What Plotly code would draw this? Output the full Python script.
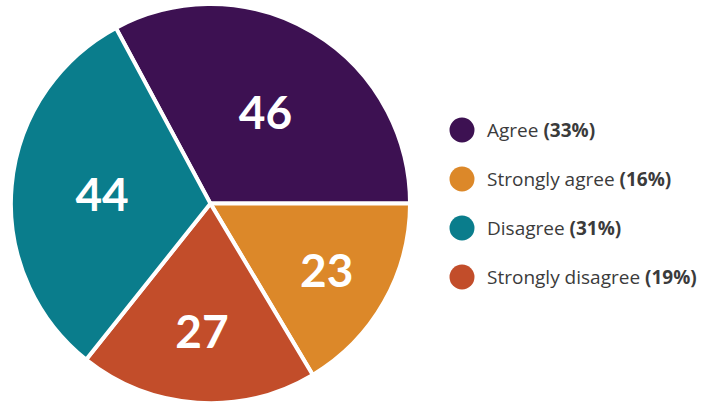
import plotly.graph_objects as go

# Data (pie order is clockwise starting from Agree)
pie_labels = ["Agree", "Strongly agree", "Strongly disagree", "Disagree"]
pie_values = [46, 23, 27, 44]
pie_colors = ["#3d1152", "#dc8829", "#c24d2a", "#0a7d8c"]

# Legend order
legend_labels = ["Agree", "Strongly agree", "Disagree", "Strongly disagree"]

total = sum(pie_values)
value_of = dict(zip(pie_labels, pie_values))
color_of = dict(zip(pie_labels, pie_colors))

fig = go.Figure()
fig.add_trace(go.Pie(
    labels=pie_labels,
    values=pie_values,
    sort=False,
    direction="clockwise",
    rotation=90 - 360 * pie_values[0] / total,
    marker=dict(colors=pie_colors, line=dict(color="white", width=4)),
    textinfo="value",
    textposition="inside",
    insidetextorientation="horizontal",
    textfont=dict(family="Lato", size=46, color="white", weight="bold"),
    domain=dict(x=[0.015, 0.568], y=[0.002, 0.99]),
    showlegend=False,
    hoverinfo="label+value+percent",
))

shapes = []
annotations = []
y0 = 130
step = 49
for i, lab in enumerate(legend_labels):
    yc = y0 + i * step
    pct = round(100 * value_of[lab] / total)
    shapes.append(dict(type="circle", xref="paper", yref="paper",
                       x0=(449.5) / 722, x1=(474.5) / 722,
                       y0=1 - (yc + 12.5) / 404, y1=1 - (yc - 12.5) / 404,
                       fillcolor=color_of[lab], line=dict(width=0)))
    annotations.append(dict(xref="paper", yref="paper", x=485 / 722, y=1 - yc / 404,
                            xanchor="left", yanchor="middle", showarrow=False,
                            text=f"{lab} <b>({pct}%)</b>",
                            font=dict(family="Open Sans", size=19, color="#3b3b3b")))

fig.update_layout(
    width=722, height=404,
    margin=dict(l=0, r=0, t=0, b=0),
    paper_bgcolor="white", plot_bgcolor="white",
    shapes=shapes, annotations=annotations,
)
fig.write_html("out.html", config={"displayModeBar": False},
               post_script="document.body.style.margin='0';")
